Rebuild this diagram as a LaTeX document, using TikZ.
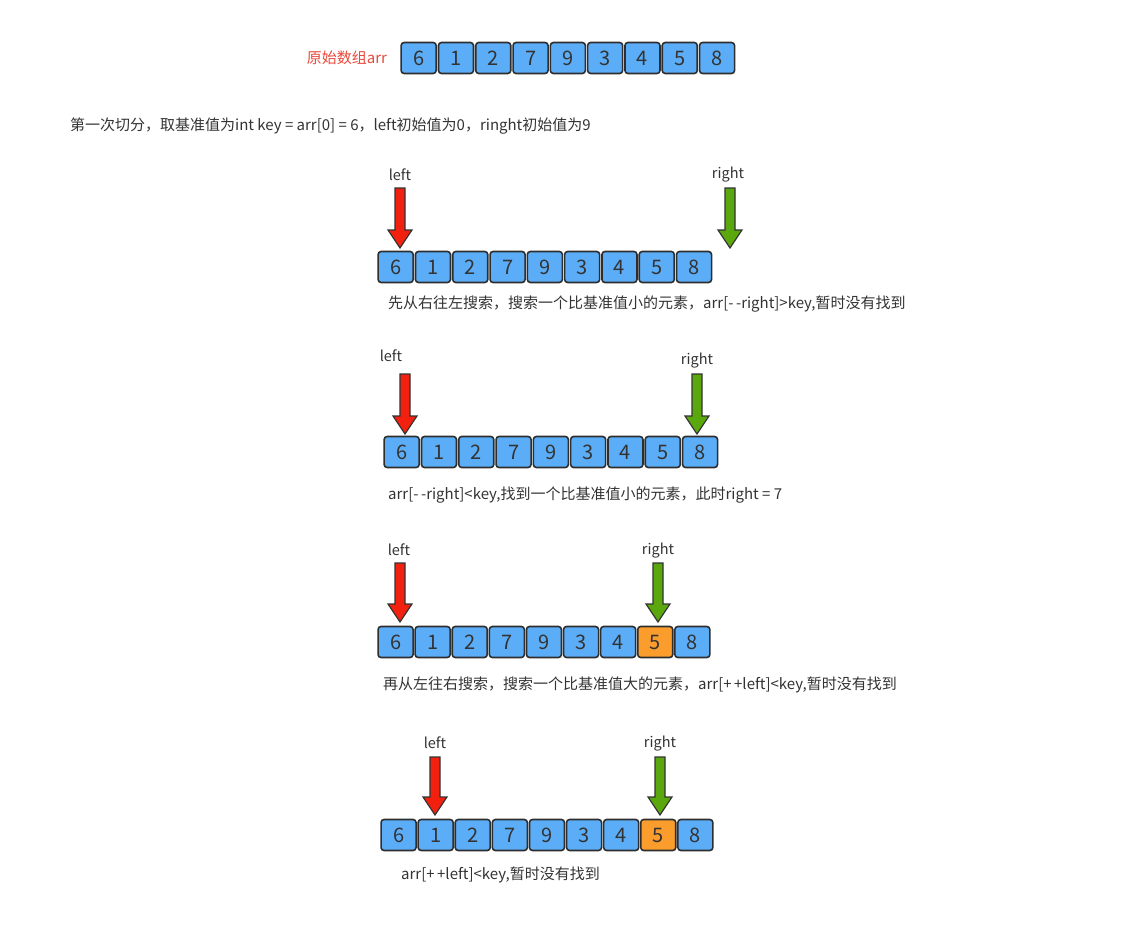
\documentclass[tikz,border=0pt]{standalone}
\usepackage{fontspec}
\setmainfont{Noto Sans CJK SC}
\definecolor{cellblue}{HTML}{5CADF7}
\definecolor{cellorange}{HTML}{FA9D2C}
\definecolor{arrred}{HTML}{F2200E}
\definecolor{arrgreen}{HTML}{5BA80E}
\definecolor{txt}{HTML}{333333}
\definecolor{lbl}{HTML}{E8483A}
\tikzset{
  cell/.style={draw=txt!90!black,line width=1.6pt,rounded corners=3pt,minimum width=35pt,minimum height=31pt,inner sep=0pt,fill=cellblue,font=\fontsize{20}{20}\selectfont,text=txt},
  hot/.style={fill=cellorange},
  captext/.style={anchor=west,font=\fontsize{15}{15}\selectfont,text=txt,inner sep=0pt},
  ptr/.style={font=\fontsize{14.5}{15}\selectfont,text=txt,inner sep=0pt},
  bigarrow/.style={draw=txt,line width=1.2pt,line join=miter}
}
\newcommand{\ptrarrow}[4]{% x, ytop, ybottom, color
  \fill[#4,bigarrow] (#1-5,#2) -- (#1+5,#2) -- (#1+5,#3-18) -- (#1+12,#3-18) -- (#1,#3) -- (#1-12,#3-18) -- (#1-5,#3-18) -- cycle;}
\newcommand{\arr}[5]{% name, left x, y center, step, orange index
  \foreach \v [count=\i] in {6,1,2,7,9,3,4,5,8}{
    \ifnum\i=#5
      \node[cell,hot] (#1-\i) at ({#2+#4/2+(\i-1)*#4},#3) {\v};
    \else
      \node[cell] (#1-\i) at ({#2+#4/2+(\i-1)*#4},#3) {\v};
    \fi}}
\begin{document}
\begin{tikzpicture}[x=1pt,y=-1pt]
\useasboundingbox (0,0) rectangle (1136,926);
\node[font=\fontsize{15}{15}\selectfont,text=lbl,inner sep=0pt] (lab0) at (347,58) {原始数组arr};
\arr{a0}{400}{58}{37.3}{0}
\node[captext] (t0) at (70,126) {第一次切分，取基准值为int key = arr[0] = 6，left初始值为0，ringht初始值为9};
% row 1
\arr{a1}{377}{267}{37.3}{0}
\node[ptr] (l1) at (400,175) {left};
\node[ptr] (r1) at (728,175) {right};
\ptrarrow{400}{188}{248}{arrred}
\ptrarrow{730}{188}{248}{arrgreen}
\node[captext] (c1) at (388,304) {先从右往左搜索，搜索一个比基准值小的元素，arr[-\,-right]>key,暂时没有找到};
% row 2
\arr{a2}{383}{452}{37.3}{0}
\node[ptr] (l2) at (391,356) {left};
\node[ptr] (r2) at (697,361) {right};
\ptrarrow{405}{374}{434}{arrred}
\ptrarrow{697}{374}{434}{arrgreen}
\node[captext] (c2) at (388,495) {arr[-\,-right]<key,找到一个比基准值小的元素，此时right = 7};
% row 3
\arr{a3}{377}{642}{37.1}{8}
\node[ptr] (l3) at (399,550) {left};
\node[ptr] (r3) at (658,551) {right};
\ptrarrow{400}{563}{622}{arrred}
\ptrarrow{658}{563}{622}{arrgreen}
\node[captext] (c3) at (383,685) {再从左往右搜索，搜索一个比基准值大的元素，arr[+\,+left]<key,暂时没有找到};
% row 4
\arr{a4}{380}{835}{37.1}{8}
\node[ptr] (l4) at (435,743) {left};
\node[ptr] (r4) at (660,744) {right};
\ptrarrow{435}{757}{815}{arrred}
\ptrarrow{660}{757}{815}{arrgreen}
\node[captext] (c4) at (401,875) {arr[+\,+left]<key,暂时没有找到};
\end{tikzpicture}
\end{document}
